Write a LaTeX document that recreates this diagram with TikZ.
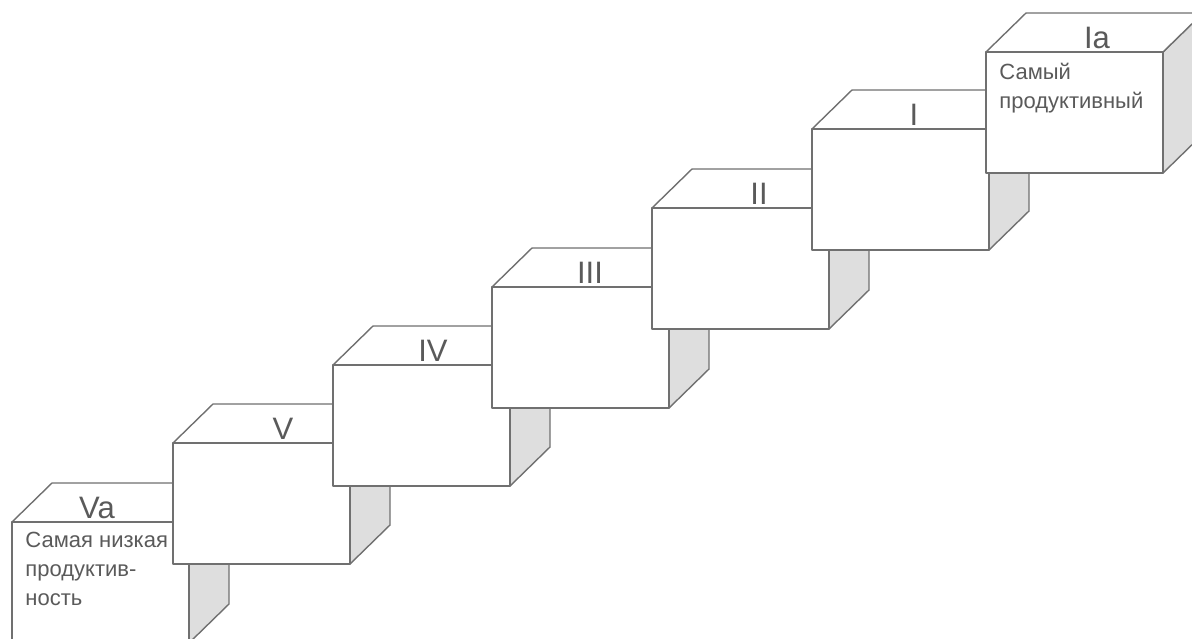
\documentclass[tikz,border=0pt]{standalone}
\usepackage{fontspec}
\setmainfont{Liberation Sans}
\usepackage{tikz}
\usetikzlibrary{calc}
\definecolor{colorline}{HTML}{707070}
\definecolor{colorside}{HTML}{DEDEDE}
\definecolor{colortext}{HTML}{5A5A5A}
\tikzset{
  cubefront/.style={draw=colorline, fill=white, line width=0.7pt, line join=round},
  cubetop/.style={draw=colorline, fill=white, line width=0.7pt, line join=round},
  cubeside/.style={draw=colorline, fill=colorside, line width=0.7pt, line join=round},
  numlabel/.style={text=colortext, inner sep=0pt, font=\fontsize{15.5}{18}\selectfont},
  desc/.style={text=colortext, inner sep=0pt, anchor=north west, align=left,
    font=\fontsize{11}{14.5}\selectfont}
}

\begin{document}
\begin{tikzpicture}[x=0.5pt, y=-0.5pt]
\useasboundingbox (0,0) rectangle (1192,638);
\clip (0,0) rectangle (1192,638);
% one cube per step, lowest first, so that each higher one lies on top
\foreach \cx/\cy/\lx/\lab [count=\i] in {12/522/97/Va, 173/443/283/V, 333/365/433/IV,
    492/287/590/III, 652/208/759/II, 812/129/914/I, 986/52/1097/Ia} {
  \draw[cubeside] (\cx+177,\cy) -- (\cx+217,\cy-39) -- (\cx+217,\cy+82) -- (\cx+177,\cy+121) -- cycle;
  \draw[cubetop] (\cx,\cy) -- (\cx+40,\cy-39) -- (\cx+217,\cy-39) -- (\cx+177,\cy) -- cycle;
  \draw[cubefront] (\cx,\cy) rectangle (\cx+177,\cy+121);
  \node[numlabel] (lab\i) at (\lx,\cy-14) {\lab};
}
\node[desc] (low) at (25,532) {Самая низкая\\продуктив-\\ность};
\node[desc] (high) at (999,63) {Самый\\продуктивный};
\end{tikzpicture}
\end{document}
